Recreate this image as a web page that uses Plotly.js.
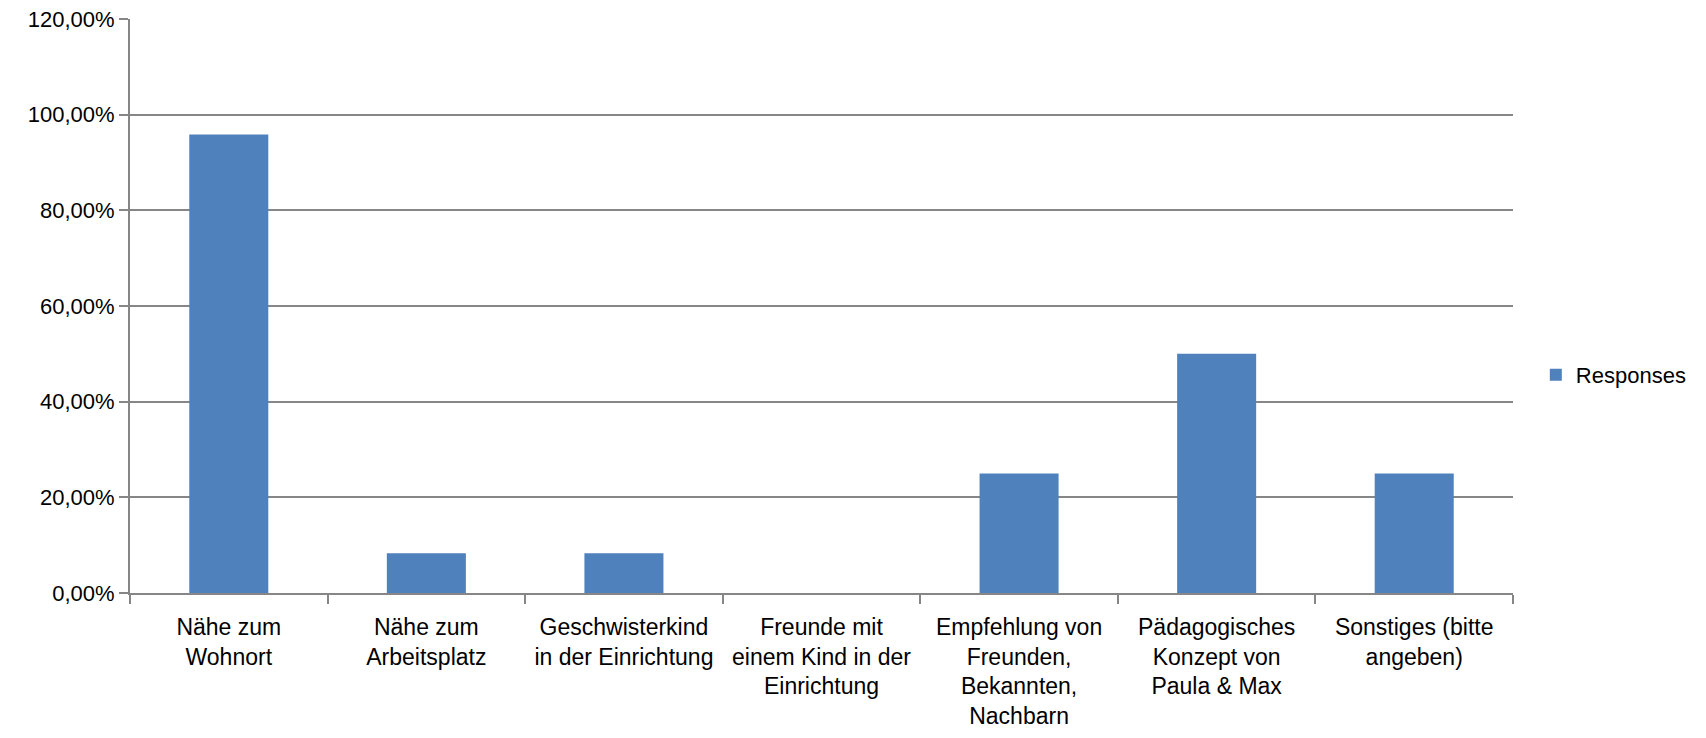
<!DOCTYPE html>
<html>
<head>
<meta charset="utf-8">
<script src="https://cdn.plot.ly/plotly-3.0.1.min.js"></script>
<style>html,body{margin:0;padding:0;background:#fff;}#chart{width:1706px;height:738px;}</style>
</head>
<body>
<div id="chart"></div>
<script>
const categories = [
  "Nähe zum<br>Wohnort",
  "Nähe zum<br>Arbeitsplatz",
  "Geschwisterkind<br>in der Einrichtung",
  "Freunde mit<br>einem Kind in der<br>Einrichtung",
  "Empfehlung von<br>Freunden,<br>Bekannten,<br>Nachbarn",
  "Pädagogisches<br>Konzept von<br>Paula & Max",
  "Sonstiges (bitte<br>angeben)"
];
const responses = [0.9583, 0.0833, 0.0833, 0, 0.25, 0.50, 0.25];
const seriesName = "Responses";

const FONT = "Liberation Sans, Arial, sans-serif";
const data = [{
  type: "bar",
  x: categories,
  y: responses,
  name: seriesName,
  marker: {color: "#4F81BD", line: {width: 0}},
  showlegend: true,
  hoverinfo: "x+y"
}];

const layout = {
  width: 1706, height: 738,
  paper_bgcolor: "#fff", plot_bgcolor: "#fff",
  separators: ",.",
  margin: {l: 130, r: 193, t: 19, b: 145, pad: 0},
  bargap: 0.6,
  font: {family: FONT, size: 22, color: "#000"},
  showlegend: true,
  legend: {x: 1.0165, xanchor: "left", y: 0.38, yanchor: "middle",
           borderwidth: 0, itemwidth: 30,
           font: {family: FONT, size: 22, color: "#000"}, bgcolor: "rgba(0,0,0,0)"},
  xaxis: {
    type: "category",
    showline: true, linecolor: "#868686", linewidth: 2,
    ticks: "outside", tickson: "boundaries", ticklen: 9, tickcolor: "#868686", tickwidth: 2,
    showgrid: false, zeroline: false,
    tickangle: 0,
    ticklabelstandoff: 12,
    tickfont: {family: FONT, size: 23, color: "#000"}
  },
  yaxis: {
    range: [0, 1.2], dtick: 0.2, tick0: 0,
    tickformat: ".2%",
    showline: true, linecolor: "#868686", linewidth: 2,
    ticks: "outside", ticklen: 9, tickcolor: "#868686", tickwidth: 2,
    showgrid: true, gridcolor: "#868686", gridwidth: 2,
    zeroline: false,
    tickfont: {family: FONT, size: 22, color: "#000"}
  }
};

Plotly.newPlot("chart", data, layout, {displayModeBar: false, staticPlot: true});
</script>
</body>
</html>
